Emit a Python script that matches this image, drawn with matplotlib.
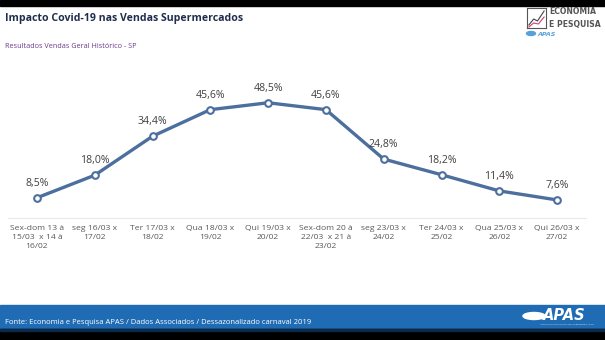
import matplotlib
matplotlib.use("Agg")
import matplotlib.pyplot as plt
from matplotlib.patches import Rectangle, Ellipse

categories = [
    "Sex-dom 13 à\n15/03  x 14 à\n16/02",
    "seg 16/03 x\n17/02",
    "Ter 17/03 x\n18/02",
    "Qua 18/03 x\n19/02",
    "Qui 19/03 x\n20/02",
    "Sex-dom 20 à\n22/03  x 21 à\n23/02",
    "seg 23/03 x\n24/02",
    "Ter 24/03 x\n25/02",
    "Qua 25/03 x\n26/02",
    "Qui 26/03 x\n27/02",
]
values = [8.5, 18.0, 34.4, 45.6, 48.5, 45.6, 24.8, 18.2, 11.4, 7.6]
value_labels = ["8,5%", "18,0%", "34,4%", "45,6%", "48,5%", "45,6%", "24,8%", "18,2%", "11,4%", "7,6%"]

title = "Impacto Covid-19 nas Vendas Supermercados"
subtitle = "Resultados Vendas Geral Histórico - SP"
footer = "Fonte: Economia e Pesquisa APAS / Dados Associados / Dessazonalizado carnaval 2019"

W, H = 605, 340
fig = plt.figure(figsize=(W / 100, H / 100), dpi=100)
fig.patch.set_facecolor("white")

def fx(px):
    return px / W

def fy(py):
    return 1 - py / H

# background bands
bg = fig.add_axes([0, 0, 1, 1], zorder=-5)
bg.set_xlim(0, W)
bg.set_ylim(H, 0)
bg.axis("off")
bg.add_patch(Rectangle((0, 0), W, 6, color="black"))
bg.add_patch(Rectangle((0, 305), W, 24, color="#1F6CB4"))
bg.add_patch(Rectangle((0, 329), W, 11, color="black"))
bg.add_patch(Rectangle((0, 329), W, 2, color="#0B2A4A"))
bg.add_patch(Ellipse((534, 316), 22, 7, color="white"))
bg.add_patch(Ellipse((531, 33.5), 9, 4, color="#5AA0D8"))

font = "Open Sans"

fig.text(fx(5), fy(19), title, fontsize=7.6, fontweight="bold", color="#1F2D4D",
         family=font, va="center", ha="left")
fig.text(fx(5), fy(47), subtitle, fontsize=5.2, color="#6B3A8C",
         family=font, va="center", ha="left")

# logo top right (approximation)
lg = fig.add_axes([fx(527), fy(28), fx(19), 20 / H])
lg.set_xlim(0, 1)
lg.set_ylim(0, 1)
lg.set_xticks([])
lg.set_yticks([])
for s in lg.spines.values():
    s.set_color("#555555")
    s.set_linewidth(0.8)
lg.plot([0.1, 0.35, 0.55, 0.9], [0.15, 0.45, 0.35, 0.85], color="#444444", lw=0.8)
lg.plot([0.1, 0.35, 0.6, 0.9], [0.05, 0.25, 0.2, 0.55], color="#D04070", lw=0.8)
fig.text(fx(549), fy(12), "ECONOMIA", fontsize=5.6, fontweight="bold", color="#555555",
         family="DejaVu Sans Condensed", va="center", ha="left")
fig.text(fx(549), fy(24), "E PESQUISA", fontsize=5.6, fontweight="bold", color="#555555",
         family="DejaVu Sans Condensed", va="center", ha="left")
fig.text(fx(537), fy(34), "APAS", fontsize=4.6, style="italic", fontweight="bold",
         color="#5AA0D8", family="DejaVu Sans", va="center", ha="left")

# footer
fig.text(fx(5), fy(323), footer, fontsize=5.5, color="white", family=font,
         va="center", ha="left")
fig.text(fx(543), fy(315), "APAS", fontsize=10.5, style="italic", fontweight="bold",
         color="white", family="DejaVu Sans", va="center", ha="left")
fig.text(fx(567), fy(324.5), "ASSOCIAÇÃO PAULISTA DE SUPERMERCADOS", fontsize=1.7,
         color="#DDE8F5", family="DejaVu Sans", va="center", ha="center")

# main chart
ax = fig.add_axes([fx(8), fy(218), fx(578), (218 - 60) / H])
x = list(range(len(values)))
ax.plot(x, values, color="#4D6F9E", lw=2.4, marker="o", markersize=4.8,
        markerfacecolor="white", markeredgecolor="#4D6F9E", markeredgewidth=1.5,
        solid_joinstyle="round", zorder=3)
for xi, v, lab in zip(x, values, value_labels):
    ax.annotate(lab, (xi, v), xytext=(0, 6.5), textcoords="offset points",
                ha="center", va="bottom", fontsize=7.6, color="#404040", family=font)
ax.set_xlim(-0.5, len(values) - 0.5)
ax.set_ylim(0, 66.5)
ax.set_yticks([])
ax.set_xticks(x)
ax.set_xticklabels(categories, fontsize=6.1, color="#595959", family=font,
                   linespacing=1.45)
ax.tick_params(axis="x", length=0, pad=5)
for side in ["top", "right", "left"]:
    ax.spines[side].set_visible(False)
ax.spines["bottom"].set_color("#EAEAEA")
ax.spines["bottom"].set_linewidth(0.8)
ax.patch.set_alpha(0)

fig.savefig("out.png", dpi=100, facecolor="white")
